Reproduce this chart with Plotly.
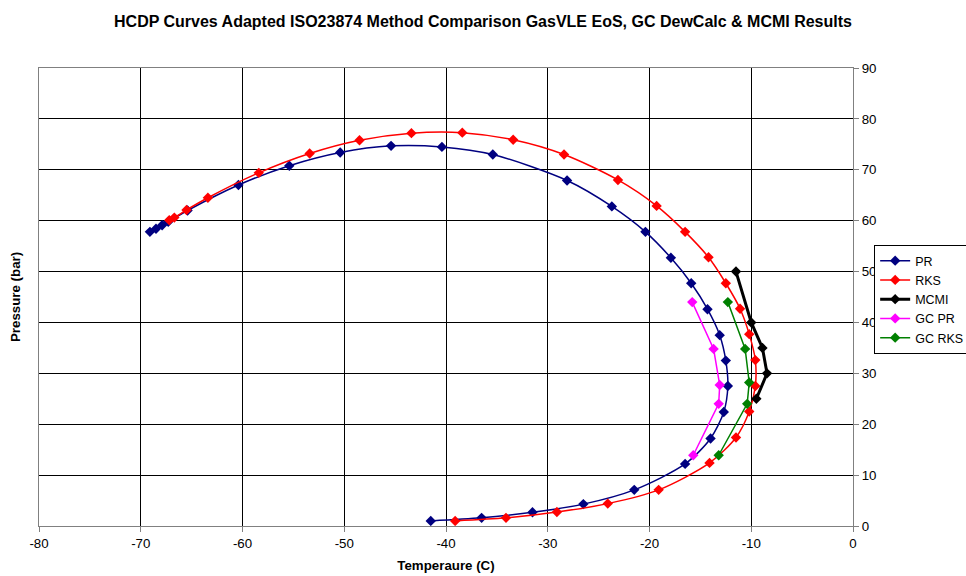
import plotly.graph_objects as go

pr_t = [-41.5, -36.5, -31.5, -26.5, -21.5, -16.5, -14.0, -12.7, -12.3, -12.5, -13.1, -14.3, -15.9, -17.9, -20.4, -23.7, -28.1, -35.4, -40.4, -45.4, -50.4, -55.4, -60.4, -65.4, -67.3, -67.9, -68.5, -69.1]
pr_p = [1.0, 1.6, 2.7, 4.3, 7.1, 12.2, 17.2, 22.4, 27.5, 32.5, 37.5, 42.6, 47.7, 52.7, 57.8, 62.8, 67.9, 73.0, 74.5, 74.7, 73.4, 70.8, 67.0, 62.0, 59.8, 59.1, 58.4, 57.8]

rks_t = [-39.1, -34.1, -29.1, -24.1, -19.1, -14.1, -11.5, -10.2, -9.6, -9.6, -10.2, -11.1, -12.5, -14.2, -16.5, -19.3, -23.1, -28.4, -33.4, -38.4, -43.4, -48.5, -53.4, -58.4, -63.4, -65.5, -66.7, -67.2]
rks_p = [1.0, 1.6, 2.75, 4.4, 7.1, 12.4, 17.4, 22.5, 27.5, 32.6, 37.7, 42.7, 47.7, 52.8, 57.8, 62.9, 68.0, 73.0, 75.9, 77.3, 77.2, 75.8, 73.2, 69.4, 64.5, 62.1, 60.6, 60.1]

mcmi_t = [-11.5, -10.0, -8.9, -8.45, -9.5]
mcmi_p = [50, 40, 35, 30, 25]

gcpr_t = [-15.8, -13.7, -13.1, -13.2, -15.7]
gcpr_p = [44.0, 34.8, 27.7, 24.0, 13.9]

gcrks_t = [-12.3, -10.6, -10.2, -10.4, -13.2]
gcrks_p = [44.0, 34.8, 28.2, 24.0, 13.9]

x_ticks = list(range(-80, 1, 10))
x_tick_labels = [str(v) for v in x_ticks]
y_ticks = list(range(0, 91, 10))

FONT = "Liberation Sans, Arial, sans-serif"

fig = go.Figure()

def add(name, xs, ys, color, width, shape):
    fig.add_trace(go.Scatter(
        x=xs, y=ys, name=name, mode="lines+markers",
        line=dict(color=color, width=width, shape=shape, smoothing=0.8 if shape == "spline" else None),
        marker=dict(symbol="diamond", size=8, color=color),
    ))

add("PR", pr_t, pr_p, "#000080", 1.5, "spline")
add("RKS", rks_t, rks_p, "#FF0000", 1.5, "spline")
add("MCMI", mcmi_t, mcmi_p, "#000000", 3, "linear")
add("GC PR", gcpr_t, gcpr_p, "#FF00FF", 1.5, "linear")
add("GC RKS", gcrks_t, gcrks_p, "#008000", 1.5, "linear")

fig.update_layout(
    width=966, height=576,
    margin=dict(l=39, r=113, t=68, b=50, autoexpand=False),
    paper_bgcolor="white", plot_bgcolor="white",
    font=dict(family=FONT, size=13.3, color="black"),
    title=dict(text="<b>HCDP Curves Adapted ISO23874 Method Comparison GasVLE EoS, GC DewCalc & MCMI Results</b>",
               x=0.5, xanchor="center", y=1 - 21 / 576, yanchor="middle", font=dict(size=16, family=FONT)),
    legend=dict(x=1.026, y=0.6135, xanchor="left", yanchor="top",
                bordercolor="black", borderwidth=1, bgcolor="white",
                font=dict(size=12.5, family=FONT), tracegroupgap=0, itemwidth=30),
    showlegend=True,
    xaxis=dict(range=[-80, 0], tickvals=x_ticks, ticktext=x_tick_labels, showgrid=True, gridcolor="#000000", gridwidth=1,
               zeroline=False, showline=True, linecolor="#808080", linewidth=1, mirror=True,
               ticks="outside", ticklen=5, tickcolor="#808080", automargin=False,
               tickfont=dict(size=13.3, family=FONT),
               title=dict(text="<b>Temperaure (C)</b>", font=dict(size=13.3, family=FONT), standoff=10)),
    yaxis=dict(range=[0, 90], tickvals=y_ticks, side="right", showgrid=True, gridcolor="#000000", gridwidth=1,
               zeroline=False, showline=True, linecolor="#808080", linewidth=1, mirror=True,
               ticks="outside", ticklen=5, tickcolor="#808080", automargin=False,
               tickfont=dict(size=13.3, family=FONT)),
    annotations=[dict(text="<b>Pressure (bar)</b>", x=-24/814, xref="paper", xanchor="center", y=0.5, yref="paper",
                      showarrow=False, textangle=-90, font=dict(size=13.3, family=FONT))],
)

fig.write_html("out.html")
